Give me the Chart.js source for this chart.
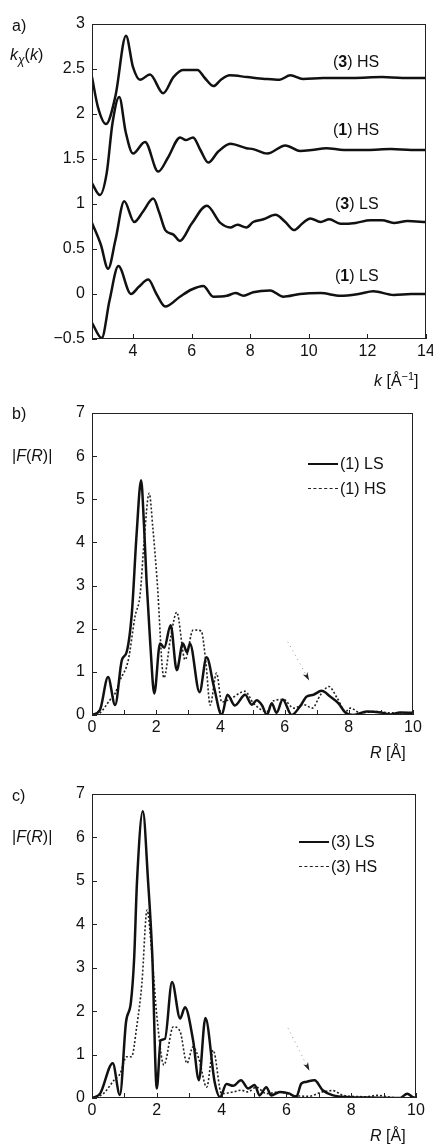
<!DOCTYPE html>
<html>
<head>
<meta charset="utf-8">
<script src="https://cdn.jsdelivr.net/npm/chart.js@4/dist/chart.umd.min.js"></script>
<style>
  html, body { margin: 0; padding: 0; background: #fff; }
  #page { position: relative; width: 433px; height: 1144px; overflow: hidden;
          font-family: Arial, "Liberation Sans", sans-serif; color: #111; }
  canvas { position: absolute; left: 0; }
  .lbl { position: absolute; font-size: 16px; line-height: 16px; white-space: nowrap; }
  .lbl sub { font-size: 12px; vertical-align: -4px; }
  .lbl sup { font-size: 11px; vertical-align: 6px; }
  .key { position: absolute; width: 30px; height: 0; border-top: 2.5px solid #111; }
  .key.dash { border-top: 1.5px dashed #222; }
</style>
</head>
<body>
<div id="page">
  <canvas id="chartA" width="433" height="390" style="top:0"></canvas>
  <canvas id="chartB" width="433" height="380" style="top:390px"></canvas>
  <canvas id="chartC" width="433" height="374" style="top:770px"></canvas>

  <div class="lbl" style="left:12px;top:18px">a)</div>
  <div class="lbl" style="left:10px;top:47px"><i>k</i><sub><i>χ</i></sub>(<i>k</i>)</div>
  <div class="lbl" style="left:333px;top:54px">(<b>3</b>) HS</div>
  <div class="lbl" style="left:333px;top:122px">(<b>1</b>) HS</div>
  <div class="lbl" style="left:335px;top:196px">(<b>3</b>) LS</div>
  <div class="lbl" style="left:335px;top:268px">(<b>1</b>) LS</div>
  <div class="lbl" style="left:374px;top:368px"><i>k</i> [Å<sup>−1</sup>]</div>

  <div class="lbl" style="left:12px;top:406px">b)</div>
  <div class="lbl" style="left:12px;top:448px">|<i>F</i>(<i>R</i>)|</div>
  <div class="key" style="left:308px;top:463px"></div>
  <div class="lbl" style="left:340px;top:456px">(1) LS</div>
  <div class="key dash" style="left:308px;top:488px"></div>
  <div class="lbl" style="left:340px;top:481px">(1) HS</div>
  <div class="lbl" style="left:370px;top:745px"><i>R</i> [Å]</div>

  <div class="lbl" style="left:12px;top:788px">c)</div>
  <div class="lbl" style="left:12px;top:829px">|<i>F</i>(<i>R</i>)|</div>
  <div class="key" style="left:299px;top:841px"></div>
  <div class="lbl" style="left:331px;top:834px">(3) LS</div>
  <div class="key dash" style="left:299px;top:866px"></div>
  <div class="lbl" style="left:331px;top:859px">(3) HS</div>
  <div class="lbl" style="left:370px;top:1128px"><i>R</i> [Å]</div>
</div>
<script>
// panel a: k-weighted EXAFS, offset curves
const k3HS = [2.6, 2.8, 3.08, 3.4, 3.76, 4.0, 4.24, 4.58, 5.03, 5.38, 5.7, 6.2, 6.45, 6.75, 7.0, 7.3, 7.9, 8.5, 9.0, 9.37, 9.8, 10.5, 11.5, 12.5, 13.2, 14];
const v3HS = [2.41, 2.08, 1.89, 2.2, 2.87, 2.52, 2.38, 2.44, 2.23, 2.41, 2.49, 2.49, 2.4, 2.31, 2.38, 2.43, 2.41, 2.39, 2.38, 2.43, 2.39, 2.4, 2.4, 2.41, 2.4, 2.4];

const k1HS = [2.6, 2.87, 3.1, 3.3, 3.53, 3.75, 4.0, 4.41, 4.86, 5.2, 5.61, 5.8, 6.05, 6.3, 6.57, 6.9, 7.32, 7.87, 8.1, 8.58, 9.2, 9.7, 10.1, 10.6, 11.2, 12, 12.8, 13.5, 14];
const v1HS = [1.23, 1.1, 1.34, 1.9, 2.19, 1.8, 1.56, 1.69, 1.36, 1.52, 1.74, 1.71, 1.74, 1.6, 1.46, 1.58, 1.67, 1.62, 1.61, 1.56, 1.65, 1.59, 1.6, 1.62, 1.6, 1.6, 1.61, 1.6, 1.6];

const k3LS = [2.6, 2.9, 3.15, 3.4, 3.7, 4.04, 4.35, 4.69, 4.9, 5.1, 5.38, 5.6, 6.0, 6.52, 6.98, 7.32, 7.56, 7.87, 8.1, 8.45, 8.86, 9.2, 9.49, 9.8, 10.05, 10.4, 10.7, 11.08, 11.6, 12.1, 12.5, 12.9, 13.37, 14];
const v3LS = [0.79, 0.55, 0.28, 0.6, 1.03, 0.8, 0.92, 1.06, 0.9, 0.71, 0.66, 0.59, 0.78, 0.98, 0.79, 0.74, 0.77, 0.74, 0.8, 0.83, 0.88, 0.8, 0.71, 0.79, 0.84, 0.8, 0.83, 0.78, 0.79, 0.82, 0.82, 0.79, 0.81, 0.8];

const k1LS = [2.6, 2.93, 3.2, 3.5, 3.93, 4.2, 4.52, 4.8, 5.1, 5.6, 6.0, 6.4, 6.74, 7.2, 7.5, 7.77, 8.1, 8.68, 9.13, 9.7, 10.4, 11.08, 11.7, 12.2, 12.9, 13.5, 14];
const v1LS = [-0.32, -0.49, -0.07, 0.31, 0.0, 0.08, 0.16, 0.0, -0.14, -0.03, 0.05, 0.09, -0.03, -0.02, 0.01, -0.02, 0.02, 0.04, -0.03, 0.0, 0.01, -0.02, 0.0, 0.03, -0.01, 0.0, 0.0];

const kTicks = [4, 6, 8, 10, 12, 14];
const chiTicks = [-0.5, 0, 0.5, 1, 1.5, 2, 2.5, 3];

// panel b: Fourier transforms of compound 1
const rB_LS = [0, 0.25, 0.5, 0.72, 0.93, 1.08, 1.24, 1.39, 1.53, 1.62, 1.7, 1.82, 1.94, 2.12, 2.25, 2.45, 2.64, 2.83, 2.96, 3.05, 3.35, 3.57, 3.8, 4.04, 4.22, 4.45, 4.77, 4.98, 5.13, 5.3, 5.45, 5.6, 5.75, 5.94, 6.22, 6.48, 6.69, 6.9, 7.15, 7.42, 7.68, 7.9, 8.15, 8.56, 8.98, 9.3, 9.6, 10];
const fB_LS = [0, 0.12, 0.88, 0.23, 1.27, 1.46, 2.35, 4.2, 5.44, 4.4, 3.1, 1.6, 0.5, 1.66, 1.56, 2.08, 1.04, 1.66, 1.45, 1.66, 0.53, 1.34, 0.65, 0, 0.47, 0.22, 0.47, 0.24, 0.34, 0.22, 0, 0.27, 0.05, 0.36, 0, 0.2, 0.43, 0.47, 0.56, 0.43, 0.27, 0.05, 0, 0.08, 0.06, 0.01, 0.06, 0.05];

const rB_HS = [0, 0.25, 0.56, 0.72, 0.87, 1.13, 1.34, 1.5, 1.62, 1.78, 1.9, 2.03, 2.24, 2.45, 2.64, 2.9, 3.15, 3.4, 3.55, 3.68, 3.88, 4.04, 4.3, 4.77, 5.02, 5.45, 5.66, 5.97, 6.28, 6.6, 6.86, 7.12, 7.38, 7.64, 7.9, 8.05, 8.36, 8.88, 9.3, 10];
const fB_HS = [0, 0.05, 0.35, 0.5, 0.8, 1.27, 2.28, 2.8, 4.0, 5.14, 4.3, 3.1, 0.86, 1.8, 2.38, 1.28, 1.97, 1.95, 1.2, 0.23, 0.97, 0.3, 0.37, 0.55, 0.28, 0.08, 0.33, 0.36, 0.16, 0.24, 0.16, 0.47, 0.66, 0.39, 0.08, 0.16, 0.05, 0.08, 0.05, 0.05];

// panel c: Fourier transforms of compound 3
const rC_LS = [0, 0.25, 0.64, 0.86, 1.05, 1.2, 1.3, 1.39, 1.57, 1.73, 1.86, 2.0, 2.12, 2.25, 2.47, 2.72, 2.87, 3.12, 3.3, 3.5, 3.79, 3.95, 4.15, 4.36, 4.6, 4.82, 5.02, 5.17, 5.38, 5.53, 5.8, 6.1, 6.3, 6.46, 6.6, 6.87, 7.12, 7.44, 7.95, 8.47, 9.5, 9.73, 9.9, 10];
const fC_LS = [0, 0.1, 0.8, 0.07, 1.75, 2.2, 3.2, 5.0, 6.6, 5.0, 3.3, 0.22, 1.33, 1.36, 2.67, 1.83, 2.09, 1.33, 0.41, 1.84, 0.35, 0.02, 0.32, 0.28, 0.41, 0.22, 0.3, 0.06, 0.25, 0.06, 0.14, 0.1, 0.02, 0.33, 0.37, 0.41, 0.18, 0.06, 0.02, 0.01, 0, 0.1, 0.02, 0];

const rC_HS = [0, 0.35, 0.71, 0.86, 1.07, 1.22, 1.38, 1.54, 1.7, 1.85, 2.0, 2.22, 2.51, 2.72, 2.93, 3.12, 3.3, 3.54, 3.74, 4.0, 4.36, 4.6, 4.8, 5.07, 5.38, 5.8, 6.22, 6.7, 7.1, 7.44, 7.75, 8.47, 8.8, 9.3, 10];
const fC_HS = [0, 0.1, 0.44, 0.55, 0.95, 0.95, 1.64, 2.64, 4.33, 3.3, 1.9, 0.76, 1.64, 1.53, 0.8, 1.18, 0.9, 0.25, 1.1, 0.1, 0.14, 0.18, 0.14, 0.25, 0.1, 0.14, 0.06, 0.04, 0.14, 0.17, 0.06, 0.03, 0.06, 0.01, 0];

const rTicks = [0, 1, 2, 3, 4, 5, 6, 7, 8, 9, 10];
const fTicks = [0, 1, 2, 3, 4, 5, 6, 7];

// arrow annotations [fromX, fromY, toX, toY] in data units
const arrowB = [6.1, 1.7, 6.72, 0.86];
const arrowC = [6.05, 1.61, 6.67, 0.69];

Chart.defaults.font.family = 'Arial, "Liberation Sans", sans-serif';
Chart.defaults.font.size = 16;
Chart.defaults.color = '#111';

const pts = (xs, ys) => xs.map((x, i) => ({ x, y: ys[i] }));

function solid(xs, ys) {
  return { data: pts(xs, ys), borderColor: '#111', borderWidth: 2.5, pointRadius: 0,
           cubicInterpolationMode: 'monotone', fill: false };
}
function dashed(xs, ys) {
  return { data: pts(xs, ys), borderColor: '#222', borderWidth: 1.6, borderDash: [2, 2],
           pointRadius: 0, cubicInterpolationMode: 'monotone', fill: false };
}

const frameTicks = {
  id: 'frameTicks',
  afterDraw(chart, args, opts) {
    const { ctx, chartArea: a, scales: { x, y } } = chart;
    ctx.save();
    ctx.strokeStyle = '#222';
    ctx.lineWidth = 1;
    ctx.strokeRect(a.left + 0.5, a.top + 0.5, a.right - a.left - 1, a.bottom - a.top - 1);
    ctx.beginPath();
    x.ticks.forEach((t) => {
      const px = Math.round(x.getPixelForValue(t.value)) + 0.5;
      ctx.moveTo(px, a.bottom);
      ctx.lineTo(px, a.bottom - 5);
    });
    y.ticks.forEach((t) => {
      const py = Math.round(y.getPixelForValue(t.value)) + 0.5;
      ctx.moveTo(a.left, py);
      ctx.lineTo(a.left + 5, py);
    });
    ctx.stroke();
    if (opts.arrow) {
      const [x0, y0, x1, y1] = opts.arrow;
      const p0 = [x.getPixelForValue(x0), y.getPixelForValue(y0)];
      const p1 = [x.getPixelForValue(x1), y.getPixelForValue(y1)];
      ctx.strokeStyle = '#999';
      ctx.setLineDash([1, 4]);
      ctx.beginPath();
      ctx.moveTo(p0[0], p0[1]);
      ctx.lineTo(p1[0], p1[1]);
      ctx.stroke();
      ctx.setLineDash([]);
      const ang = Math.atan2(p1[1] - p0[1], p1[0] - p0[0]);
      ctx.fillStyle = '#222';
      ctx.beginPath();
      ctx.moveTo(p1[0] + 3 * Math.cos(ang), p1[1] + 3 * Math.sin(ang));
      ctx.lineTo(p1[0] - 6 * Math.cos(ang - 0.45), p1[1] - 6 * Math.sin(ang - 0.45));
      ctx.lineTo(p1[0] - 3 * Math.cos(ang), p1[1] - 3 * Math.sin(ang));
      ctx.lineTo(p1[0] - 6 * Math.cos(ang + 0.45), p1[1] - 6 * Math.sin(ang + 0.45));
      ctx.closePath();
      ctx.fill();
    }
    ctx.restore();
  }
};

const fmt = (v) => String(v).replace('-', '\u2212');

function makeChart(id, datasets, o) {
  return new Chart(document.getElementById(id), {
    type: 'line',
    data: { datasets },
    options: {
      responsive: false,
      animation: false,
      devicePixelRatio: 1,
      layout: { padding: o.padding },
      plugins: { legend: { display: false }, tooltip: { enabled: false }, frameTicks: { arrow: o.arrow } },
      scales: {
        x: {
          type: 'linear', min: o.xMin, max: o.xMax,
          grid: { display: false, drawTicks: false }, border: { display: false },
          afterBuildTicks: (s) => { s.ticks = o.xTicks.map((v) => ({ value: v })); },
          afterFit: (s) => { s.height = 30; s.paddingLeft = 0; s.paddingRight = 0; },
          ticks: { padding: 3, autoSkip: false, maxRotation: 0,
                   callback: (v) => (o.xEvenOnly && v % 2 !== 0 ? '' : fmt(v)) }
        },
        y: {
          type: 'linear', min: o.yMin, max: o.yMax,
          grid: { display: false, drawTicks: false }, border: { display: false },
          afterBuildTicks: (s) => { s.ticks = o.yTicks.map((v) => ({ value: v })); },
          afterFit: (s) => { s.width = 92; s.paddingTop = 0; s.paddingBottom = 0; },
          ticks: { padding: 7, autoSkip: false, callback: (v) => fmt(v) }
        }
      }
    },
    plugins: [frameTicks]
  });
}

makeChart('chartA', [solid(k3HS, v3HS), solid(k1HS, v1HS), solid(k3LS, v3LS), solid(k1LS, v1LS)], {
  padding: { left: 0, right: 7, top: 24, bottom: 21 },
  xMin: 2.6, xMax: 14, yMin: -0.5, yMax: 3, xTicks: kTicks, yTicks: chiTicks
});

makeChart('chartB', [solid(rB_LS, fB_LS), dashed(rB_HS, fB_HS)], {
  padding: { left: 0, right: 20, top: 23, bottom: 25 },
  xMin: 0, xMax: 10, yMin: 0, yMax: 7, xTicks: rTicks, yTicks: fTicks, xEvenOnly: true, arrow: arrowB
});

makeChart('chartC', [solid(rC_LS, fC_LS), dashed(rC_HS, fC_HS)], {
  padding: { left: 0, right: 17, top: 24, bottom: 16 },
  xMin: 0, xMax: 10, yMin: 0, yMax: 7, xTicks: rTicks, yTicks: fTicks, xEvenOnly: true, arrow: arrowC
});
</script>
</body>
</html>
